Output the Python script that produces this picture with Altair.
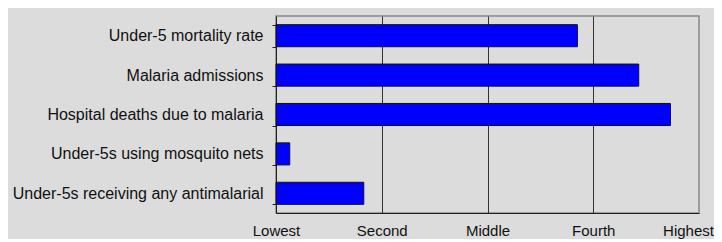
import altair as alt
import pandas as pd

categories = [
    "Under-5 mortality rate",
    "Malaria admissions",
    "Hospital deaths due to malaria",
    "Under-5s using mosquito nets",
    "Under-5s receiving any antimalarial",
]
values = [2.85, 3.43, 3.73, 0.13, 0.83]
tick_labels = ["Lowest", "Second", "Middle", "Fourth", "Highest"]

df = pd.DataFrame({"category": categories, "value": values})

label_expr = "[" + ",".join(f"'{t}'" for t in tick_labels) + "][datum.value]"

BG = "#dcdcdc"

chart = (
    alt.Chart(df)
    .mark_bar(color="#0000ff", stroke="#111111", strokeWidth=1)
    .encode(
        x=alt.X(
            "value:Q",
            scale=alt.Scale(domain=[0, 4], nice=False, zero=True),
            axis=alt.Axis(
                values=[0, 1, 2, 3, 4],
                labelExpr=label_expr,
                title=None,
                ticks=False,
                grid=True,
                gridColor={
                    "condition": {"test": "datum.value == 4 || datum.value == 0", "value": "transparent"},
                    "value": "#333333",
                },
                gridWidth=1,
                domainColor="#222222",
                labelPadding=10,
                labelFontSize=15,
                labelOffset={"condition": {"test": "datum.value == 4", "value": -11}, "value": 0},
                labelColor="#111111",
                labelFont="Liberation Sans",
                labelFlush=False,
            ),
        ),
        y=alt.Y(
            "category:N",
            sort=categories,
            scale=alt.Scale(paddingInner=0.44, paddingOuter=0.22),
            axis=alt.Axis(
                title=None,
                tickBand="extent",
                tickSize=4,
                tickColor="#222222",
                domainColor="#222222",
                labelPadding=9,
                labelFontSize=16,
                labelColor="#111111",
                labelFont="Liberation Sans",
                labelLimit=400,
            ),
        ),
    )
    .properties(
        width=423,
        height=197,
        background=BG,
        autosize=alt.AutoSizeParams(type="none"),
        padding={"left": 268, "top": 8, "right": 15, "bottom": 26},
    )
    .configure_view(fill=BG, stroke="#888888", strokeWidth=1.5)
)

chart.save("out.html", embed_options={"renderer": "svg", "actions": False})
